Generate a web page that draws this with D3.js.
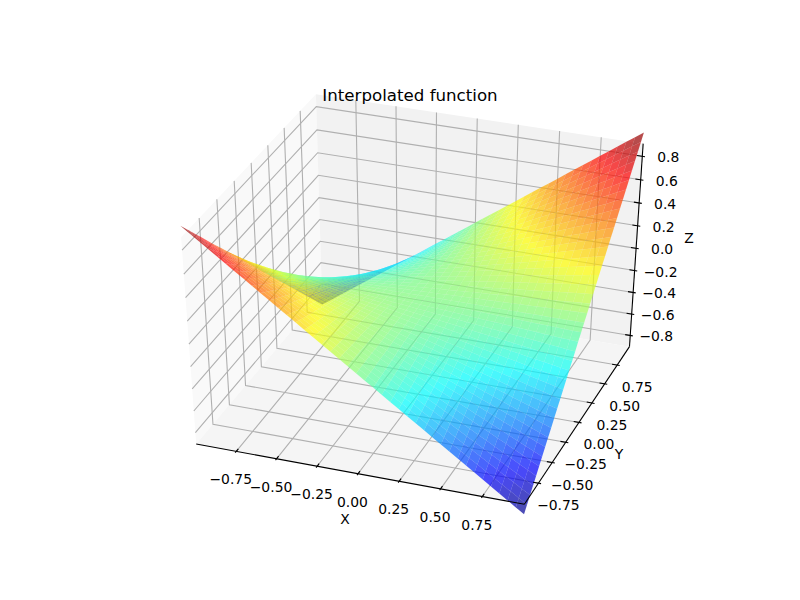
<!DOCTYPE html>
<html><head><meta charset="utf-8">
<style>html,body{margin:0;background:#fff}text{font-family:"DejaVu Sans",sans-serif;fill:#000}</style>
<script src="https://cdn.jsdelivr.net/npm/d3@7"></script></head><body><svg id="c" width="800" height="600"></svg>
<script>
const xValues=[-1,-.95,-.9,-.85,-.8,-.75,-.7,-.65,-.6,-.55,-.5,-.45,-.4,-.35,-.3,-.25,-.2,-.15,-.1,-.05,0,.05,.1,.15,.2,.25,.3,.35,.4,.45,.5,.55,.6,.65,.7,.75,.8,.85,.9,.95,1];
const yValues=[-1,-.95,-.9,-.85,-.8,-.75,-.7,-.65,-.6,-.55,-.5,-.45,-.4,-.35,-.3,-.25,-.2,-.15,-.1,-.05,0,.05,.1,.15,.2,.25,.3,.35,.4,.45,.5,.55,.6,.65,.7,.75,.8,.85,.9,.95,1];
const zRows=[
[1,.95,.9,.85,.8,.75,.7,.65,.6,.55,.5,.45,.4,.35,.3,.25,.2,.15,.1,.05,0,-.05,-.1,-.15,-.2,-.25,-.3,-.35,-.4,-.45,-.5,-.55,-.6,-.65,-.7,-.75,-.8,-.85,-.9,-.95,-1],
[.95,.903,.855,.808,.76,.713,.665,.618,.57,.523,.475,.428,.38,.333,.285,.238,.19,.143,.095,.048,0,-.048,-.095,-.143,-.19,-.238,-.285,-.333,-.38,-.428,-.475,-.523,-.57,-.618,-.665,-.713,-.76,-.808,-.855,-.903,-.95],
[.9,.855,.81,.765,.72,.675,.63,.585,.54,.495,.45,.405,.36,.315,.27,.225,.18,.135,.09,.045,0,-.045,-.09,-.135,-.18,-.225,-.27,-.315,-.36,-.405,-.45,-.495,-.54,-.585,-.63,-.675,-.72,-.765,-.81,-.855,-.9],
[.85,.808,.765,.723,.68,.638,.595,.553,.51,.468,.425,.383,.34,.298,.255,.213,.17,.128,.085,.043,0,-.043,-.085,-.128,-.17,-.213,-.255,-.298,-.34,-.383,-.425,-.468,-.51,-.553,-.595,-.638,-.68,-.723,-.765,-.808,-.85],
[.8,.76,.72,.68,.64,.6,.56,.52,.48,.44,.4,.36,.32,.28,.24,.2,.16,.12,.08,.04,0,-.04,-.08,-.12,-.16,-.2,-.24,-.28,-.32,-.36,-.4,-.44,-.48,-.52,-.56,-.6,-.64,-.68,-.72,-.76,-.8],
[.75,.713,.675,.638,.6,.563,.525,.488,.45,.413,.375,.338,.3,.263,.225,.188,.15,.113,.075,.038,0,-.038,-.075,-.113,-.15,-.188,-.225,-.263,-.3,-.338,-.375,-.413,-.45,-.488,-.525,-.563,-.6,-.638,-.675,-.713,-.75],
[.7,.665,.63,.595,.56,.525,.49,.455,.42,.385,.35,.315,.28,.245,.21,.175,.14,.105,.07,.035,0,-.035,-.07,-.105,-.14,-.175,-.21,-.245,-.28,-.315,-.35,-.385,-.42,-.455,-.49,-.525,-.56,-.595,-.63,-.665,-.7],
[.65,.618,.585,.553,.52,.488,.455,.423,.39,.358,.325,.293,.26,.228,.195,.163,.13,.098,.065,.033,0,-.033,-.065,-.098,-.13,-.163,-.195,-.228,-.26,-.293,-.325,-.358,-.39,-.423,-.455,-.488,-.52,-.553,-.585,-.618,-.65],
[.6,.57,.54,.51,.48,.45,.42,.39,.36,.33,.3,.27,.24,.21,.18,.15,.12,.09,.06,.03,0,-.03,-.06,-.09,-.12,-.15,-.18,-.21,-.24,-.27,-.3,-.33,-.36,-.39,-.42,-.45,-.48,-.51,-.54,-.57,-.6],
[.55,.523,.495,.468,.44,.413,.385,.358,.33,.303,.275,.248,.22,.193,.165,.138,.11,.083,.055,.028,0,-.028,-.055,-.083,-.11,-.138,-.165,-.193,-.22,-.248,-.275,-.303,-.33,-.358,-.385,-.413,-.44,-.468,-.495,-.523,-.55],
[.5,.475,.45,.425,.4,.375,.35,.325,.3,.275,.25,.225,.2,.175,.15,.125,.1,.075,.05,.025,0,-.025,-.05,-.075,-.1,-.125,-.15,-.175,-.2,-.225,-.25,-.275,-.3,-.325,-.35,-.375,-.4,-.425,-.45,-.475,-.5],
[.45,.428,.405,.383,.36,.338,.315,.293,.27,.248,.225,.203,.18,.158,.135,.113,.09,.068,.045,.023,0,-.023,-.045,-.068,-.09,-.113,-.135,-.158,-.18,-.203,-.225,-.248,-.27,-.293,-.315,-.338,-.36,-.383,-.405,-.428,-.45],
[.4,.38,.36,.34,.32,.3,.28,.26,.24,.22,.2,.18,.16,.14,.12,.1,.08,.06,.04,.02,0,-.02,-.04,-.06,-.08,-.1,-.12,-.14,-.16,-.18,-.2,-.22,-.24,-.26,-.28,-.3,-.32,-.34,-.36,-.38,-.4],
[.35,.333,.315,.298,.28,.263,.245,.228,.21,.193,.175,.158,.14,.123,.105,.088,.07,.053,.035,.018,0,-.018,-.035,-.053,-.07,-.088,-.105,-.123,-.14,-.158,-.175,-.193,-.21,-.228,-.245,-.263,-.28,-.298,-.315,-.333,-.35],
[.3,.285,.27,.255,.24,.225,.21,.195,.18,.165,.15,.135,.12,.105,.09,.075,.06,.045,.03,.015,0,-.015,-.03,-.045,-.06,-.075,-.09,-.105,-.12,-.135,-.15,-.165,-.18,-.195,-.21,-.225,-.24,-.255,-.27,-.285,-.3],
[.25,.238,.225,.213,.2,.188,.175,.163,.15,.138,.125,.113,.1,.088,.075,.063,.05,.038,.025,.013,0,-.013,-.025,-.038,-.05,-.063,-.075,-.088,-.1,-.113,-.125,-.138,-.15,-.163,-.175,-.188,-.2,-.213,-.225,-.238,-.25],
[.2,.19,.18,.17,.16,.15,.14,.13,.12,.11,.1,.09,.08,.07,.06,.05,.04,.03,.02,.01,0,-.01,-.02,-.03,-.04,-.05,-.06,-.07,-.08,-.09,-.1,-.11,-.12,-.13,-.14,-.15,-.16,-.17,-.18,-.19,-.2],
[.15,.143,.135,.128,.12,.113,.105,.098,.09,.083,.075,.068,.06,.053,.045,.038,.03,.023,.015,.008,0,-.008,-.015,-.023,-.03,-.038,-.045,-.053,-.06,-.068,-.075,-.083,-.09,-.098,-.105,-.113,-.12,-.128,-.135,-.143,-.15],
[.1,.095,.09,.085,.08,.075,.07,.065,.06,.055,.05,.045,.04,.035,.03,.025,.02,.015,.01,.005,0,-.005,-.01,-.015,-.02,-.025,-.03,-.035,-.04,-.045,-.05,-.055,-.06,-.065,-.07,-.075,-.08,-.085,-.09,-.095,-.1],
[.05,.048,.045,.043,.04,.038,.035,.033,.03,.028,.025,.023,.02,.018,.015,.013,.01,.008,.005,.003,0,-.003,-.005,-.008,-.01,-.013,-.015,-.018,-.02,-.023,-.025,-.028,-.03,-.033,-.035,-.038,-.04,-.043,-.045,-.048,-.05],
[0,0,0,0,0,0,0,0,0,0,0,0,0,0,0,0,0,0,0,0,0,0,0,0,0,0,0,0,0,0,0,0,0,0,0,0,0,0,0,0,0],
[-.05,-.048,-.045,-.043,-.04,-.038,-.035,-.033,-.03,-.028,-.025,-.023,-.02,-.018,-.015,-.013,-.01,-.008,-.005,-.003,0,.003,.005,.008,.01,.013,.015,.018,.02,.023,.025,.028,.03,.033,.035,.038,.04,.043,.045,.048,.05],
[-.1,-.095,-.09,-.085,-.08,-.075,-.07,-.065,-.06,-.055,-.05,-.045,-.04,-.035,-.03,-.025,-.02,-.015,-.01,-.005,0,.005,.01,.015,.02,.025,.03,.035,.04,.045,.05,.055,.06,.065,.07,.075,.08,.085,.09,.095,.1],
[-.15,-.143,-.135,-.128,-.12,-.113,-.105,-.098,-.09,-.083,-.075,-.068,-.06,-.053,-.045,-.038,-.03,-.023,-.015,-.008,0,.008,.015,.023,.03,.038,.045,.053,.06,.068,.075,.083,.09,.098,.105,.113,.12,.128,.135,.143,.15],
[-.2,-.19,-.18,-.17,-.16,-.15,-.14,-.13,-.12,-.11,-.1,-.09,-.08,-.07,-.06,-.05,-.04,-.03,-.02,-.01,0,.01,.02,.03,.04,.05,.06,.07,.08,.09,.1,.11,.12,.13,.14,.15,.16,.17,.18,.19,.2],
[-.25,-.238,-.225,-.213,-.2,-.188,-.175,-.163,-.15,-.138,-.125,-.113,-.1,-.088,-.075,-.063,-.05,-.038,-.025,-.013,0,.013,.025,.038,.05,.063,.075,.088,.1,.113,.125,.138,.15,.163,.175,.188,.2,.213,.225,.238,.25],
[-.3,-.285,-.27,-.255,-.24,-.225,-.21,-.195,-.18,-.165,-.15,-.135,-.12,-.105,-.09,-.075,-.06,-.045,-.03,-.015,0,.015,.03,.045,.06,.075,.09,.105,.12,.135,.15,.165,.18,.195,.21,.225,.24,.255,.27,.285,.3],
[-.35,-.333,-.315,-.298,-.28,-.263,-.245,-.228,-.21,-.193,-.175,-.158,-.14,-.123,-.105,-.088,-.07,-.053,-.035,-.018,0,.018,.035,.053,.07,.088,.105,.123,.14,.158,.175,.193,.21,.228,.245,.263,.28,.298,.315,.333,.35],
[-.4,-.38,-.36,-.34,-.32,-.3,-.28,-.26,-.24,-.22,-.2,-.18,-.16,-.14,-.12,-.1,-.08,-.06,-.04,-.02,0,.02,.04,.06,.08,.1,.12,.14,.16,.18,.2,.22,.24,.26,.28,.3,.32,.34,.36,.38,.4],
[-.45,-.428,-.405,-.383,-.36,-.338,-.315,-.293,-.27,-.248,-.225,-.203,-.18,-.158,-.135,-.113,-.09,-.068,-.045,-.023,0,.023,.045,.068,.09,.113,.135,.158,.18,.203,.225,.248,.27,.293,.315,.338,.36,.383,.405,.428,.45],
[-.5,-.475,-.45,-.425,-.4,-.375,-.35,-.325,-.3,-.275,-.25,-.225,-.2,-.175,-.15,-.125,-.1,-.075,-.05,-.025,0,.025,.05,.075,.1,.125,.15,.175,.2,.225,.25,.275,.3,.325,.35,.375,.4,.425,.45,.475,.5],
[-.55,-.523,-.495,-.468,-.44,-.413,-.385,-.358,-.33,-.303,-.275,-.248,-.22,-.193,-.165,-.138,-.11,-.083,-.055,-.028,0,.028,.055,.083,.11,.138,.165,.193,.22,.248,.275,.303,.33,.358,.385,.413,.44,.468,.495,.523,.55],
[-.6,-.57,-.54,-.51,-.48,-.45,-.42,-.39,-.36,-.33,-.3,-.27,-.24,-.21,-.18,-.15,-.12,-.09,-.06,-.03,0,.03,.06,.09,.12,.15,.18,.21,.24,.27,.3,.33,.36,.39,.42,.45,.48,.51,.54,.57,.6],
[-.65,-.618,-.585,-.553,-.52,-.488,-.455,-.423,-.39,-.358,-.325,-.293,-.26,-.228,-.195,-.163,-.13,-.098,-.065,-.033,0,.033,.065,.098,.13,.163,.195,.228,.26,.293,.325,.358,.39,.423,.455,.488,.52,.553,.585,.618,.65],
[-.7,-.665,-.63,-.595,-.56,-.525,-.49,-.455,-.42,-.385,-.35,-.315,-.28,-.245,-.21,-.175,-.14,-.105,-.07,-.035,0,.035,.07,.105,.14,.175,.21,.245,.28,.315,.35,.385,.42,.455,.49,.525,.56,.595,.63,.665,.7],
[-.75,-.713,-.675,-.638,-.6,-.563,-.525,-.488,-.45,-.413,-.375,-.338,-.3,-.263,-.225,-.188,-.15,-.113,-.075,-.038,0,.038,.075,.113,.15,.188,.225,.263,.3,.338,.375,.413,.45,.488,.525,.563,.6,.638,.675,.713,.75],
[-.8,-.76,-.72,-.68,-.64,-.6,-.56,-.52,-.48,-.44,-.4,-.36,-.32,-.28,-.24,-.2,-.16,-.12,-.08,-.04,0,.04,.08,.12,.16,.2,.24,.28,.32,.36,.4,.44,.48,.52,.56,.6,.64,.68,.72,.76,.8],
[-.85,-.808,-.765,-.723,-.68,-.638,-.595,-.553,-.51,-.468,-.425,-.383,-.34,-.298,-.255,-.213,-.17,-.128,-.085,-.043,0,.043,.085,.128,.17,.213,.255,.298,.34,.383,.425,.468,.51,.553,.595,.638,.68,.723,.765,.808,.85],
[-.9,-.855,-.81,-.765,-.72,-.675,-.63,-.585,-.54,-.495,-.45,-.405,-.36,-.315,-.27,-.225,-.18,-.135,-.09,-.045,0,.045,.09,.135,.18,.225,.27,.315,.36,.405,.45,.495,.54,.585,.63,.675,.72,.765,.81,.855,.9],
[-.95,-.903,-.855,-.808,-.76,-.713,-.665,-.618,-.57,-.523,-.475,-.428,-.38,-.333,-.285,-.238,-.19,-.143,-.095,-.048,0,.048,.095,.143,.19,.238,.285,.333,.38,.428,.475,.523,.57,.618,.665,.713,.76,.808,.855,.903,.95],
[-1,-.95,-.9,-.85,-.8,-.75,-.7,-.65,-.6,-.55,-.5,-.45,-.4,-.35,-.3,-.25,-.2,-.15,-.1,-.05,0,.05,.1,.15,.2,.25,.3,.35,.4,.45,.5,.55,.6,.65,.7,.75,.8,.85,.9,.95,1]];
const xyTicks=[-.75,-.5,-.25,0,.25,.5,.75];
const xyTickLabels=["−0.75","−0.50","−0.25","0.00","0.25","0.50","0.75"];
const zTicks=[-.8,-.6,-.4,-.2,0,.2,.4,.6,.8];
const zTickLabels=["−0.8","−0.6","−0.4","−0.2","0.0","0.2","0.4","0.6","0.8"];
const title="Interpolated function";

const pad=1/48, L=.96, ZL=.87;
const elev=38*Math.PI/180, azim=-70*Math.PI/180, dist=10;
const sx=d3.scaleLinear().domain([-L,L]).range([0,1]);
const sy=d3.scaleLinear().domain([-L,L]).range([0,1]);
const sz=d3.scaleLinear().domain([-ZL,ZL]).range([0,1]);
const px=d3.scaleLinear().domain([-.095,.095]).range([100,736]);
const py=d3.scaleLinear().domain([-.095,.095]).range([532,58]);
const w=[Math.cos(elev)*Math.cos(azim),Math.cos(elev)*Math.sin(azim),Math.sin(elev)];
const E=w.map(d=>.5+dist*d);
let u=[-w[1],w[0],0];const un=Math.hypot(u[0],u[1]);u=u.map(d=>d/un);
const v=[w[1]*u[2]-w[2]*u[1],w[2]*u[0]-w[0]*u[2],w[0]*u[1]-w[1]*u[0]];
const dot=(a,b)=>a[0]*b[0]+a[1]*b[1]+a[2]*b[2];
function unitProj(p){const d=[p[0]-E[0],p[1]-E[1],p[2]-E[2]];const depth=-dot(w,d);
  return {x:px(dot(u,d)/depth),y:py(dot(v,d)/depth),depth};}
const proj=(x,y,z)=>unitProj([sx(x),sy(y),sz(z)]);
const lo=-pad,hi=1+pad;
const bp=(a,b,c)=>{const p=unitProj([a,b,c]);return [p.x,p.y];};
const svg=d3.select("#c");
const line=d3.line();
function poly(pts,fill){svg.append("path").attr("d",line(pts)+"Z").attr("fill",fill);}
poly([bp(lo,lo,lo),bp(lo,hi,lo),bp(lo,hi,hi),bp(lo,lo,hi)],"#f9f9f9");
poly([bp(lo,hi,lo),bp(hi,hi,lo),bp(hi,hi,hi),bp(lo,hi,hi)],"#f2f2f2");
poly([bp(lo,lo,lo),bp(hi,lo,lo),bp(hi,hi,lo),bp(lo,hi,lo)],"#f5f5f5");
function stroke(pts,color,width){svg.append("path").attr("d",line(pts)).attr("fill","none").attr("stroke",color).attr("stroke-width",width);}
const G="#b0b0b0",GW=1.1;
xyTicks.forEach(t=>{stroke([bp(sx(t),lo,lo),bp(sx(t),hi,lo),bp(sx(t),hi,hi)],G,GW);});
xyTicks.forEach(t=>{stroke([bp(hi,sy(t),lo),bp(lo,sy(t),lo),bp(lo,sy(t),hi)],G,GW);});
zTicks.forEach(t=>{stroke([bp(lo,lo,sz(t)),bp(lo,hi,sz(t)),bp(hi,hi,sz(t))],G,GW);});
const jetStops=d3.scaleLinear().domain([0,.125,.375,.625,.875,1]).range(["#000080","#0000ff","#00ffff","#ffff00","#ff0000","#800000"]).clamp(true);
const zc=d3.scaleLinear().domain([-1,1]).range([0,1]);
const cells=[];
for(let j=0;j<yValues.length-1;j++)for(let i=0;i<xValues.length-1;i++){
  const corners=[[i,j],[i+1,j],[i+1,j+1],[i,j+1]];
  const c=corners.map(([a,b])=>proj(xValues[a],yValues[b],zRows[b][a]));
  const mz=d3.mean(corners,([a,b])=>zRows[b][a]);
  cells.push({pts:c.map(p=>[p.x,p.y]),depth:d3.mean(c,p=>p.depth),mz});
}
cells.sort((a,b)=>b.depth-a.depth);
svg.append("g").selectAll("path").data(cells).join("path")
 .attr("d",d=>line(d.pts)+"Z").attr("fill",d=>jetStops(zc(d.mz))).attr("fill-opacity",.7);
const AX="#000";
stroke([bp(lo,lo,lo),bp(hi,lo,lo)],AX,1.1);
stroke([bp(hi,lo,lo),bp(hi,hi,lo)],AX,1.1);
stroke([bp(hi,hi,lo),bp(hi,hi,hi)],AX,1.1);
const D=1/12;
function label(x,y,s,size,anchor){svg.append("text").attr("x",x).attr("y",y).attr("font-size",size).attr("text-anchor",anchor||"middle").attr("dominant-baseline","central").text(s);}
xyTicks.forEach((t,i)=>{const a=sx(t);
  stroke([bp(a,lo+.2*D,lo),bp(a,lo-.1*D,lo)],AX,1.1);
  const p=bp(a,lo,lo);label(p[0]-5.5,p[1]+28,xyTickLabels[i],13.9);});
xyTicks.forEach((t,i)=>{const a=sy(t);
  stroke([bp(hi-.2*D,a,lo),bp(hi+.1*D,a,lo)],AX,1.1);
  const p=bp(hi,a,lo);label(p[0]+20,p[1]+22,xyTickLabels[i],13.9);});
zTicks.forEach((t,i)=>{const a=sz(t);
  stroke([bp(hi-.2*D,hi,a),bp(hi+.1*D,hi,a)],AX,1.1);
  const p=bp(hi,hi,a);label(p[0]+26,p[1]+1,zTickLabels[i],13.9);});
label(345,519,"X",13.9);label(619,454,"Y",13.9);label(689,238,"Z",13.9);
label(410,95,title,16.67);
</script></body></html>
